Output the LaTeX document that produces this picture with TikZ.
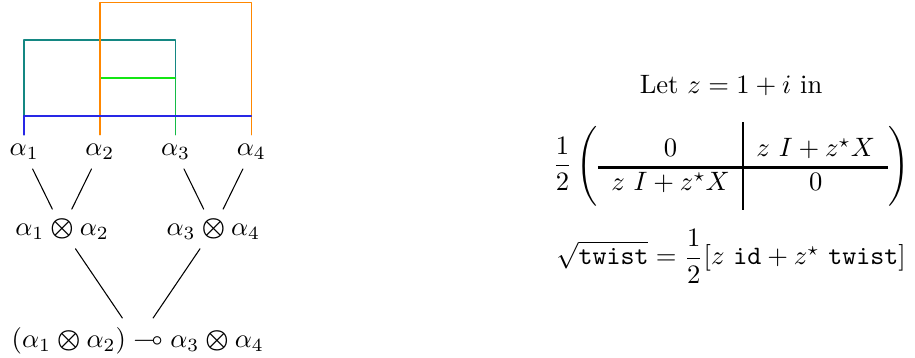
\documentclass[tikz,border=0pt]{standalone}
\usepackage{amsmath,amssymb}
\setlength{\arrayrulewidth}{0.8pt}
\definecolor{wireteal}{RGB}{20,135,130}
\definecolor{wiregreen}{RGB}{20,230,20}
\definecolor{wireblue}{RGB}{40,40,230}
\definecolor{wireorange}{RGB}{255,135,0}
\newcommand{\tens}{\mathbin{\boldsymbol{\otimes}}}
\begin{document}
\begin{tikzpicture}[line join=round,line cap=round]
	\useasboundingbox (-0.32,-2.95) rectangle (11.77,1.78);
	% wires
	\begin{scope}[line width=0.55pt]
	\draw[wireteal] (0,0)--(0,1.25)--(2,1.25)--(2,0.75);
	\draw[wiregreen] (1,0.75)--(2,0.75);
	\draw[wiregreen!55!wireteal] (2,0.75)--(2,0);
	\draw[wireorange] (1,0)--(1,1.75)--(3,1.75)--(3,0);
	\draw[wireblue] (0,0)--(0,0.25)--(3,0.25);
	\end{scope}
	\foreach \i in {1,...,4} \node[below] (a\i) at (\i-1,0) {$\alpha_\i$};
	% tree
	\node[anchor=base] (t12) at (0.5,-1.33) {$\alpha_1 \tens \alpha_2$};
	\node[anchor=base] (t34) at (2.5,-1.33) {$\alpha_3 \tens \alpha_4$};
	\node[anchor=base] (hom) at (1.5,-2.81) {$(\alpha_1 \tens \alpha_2) \multimap \alpha_3 \tens \alpha_4$};
	\draw (a1)--(t12) (a2)--(t12) (a3)--(t34) (a4)--(t34)
	(t12)--(hom) (t34)--(hom);
	% right side
	\node[anchor=base] (let) at (9.34,0.55) {Let $z = 1 + i$ in};
	\node[anchor=base] (mat) at (9.34,-0.50) {$\dfrac{1}{2}\left(\begin{array}{c|c}
		\rule{0pt}{13pt}0 & z\ I + z^\star X \\ \hline
		z\ I + z^\star X & 0\rule[-7pt]{0pt}{7pt}
	\end{array}\right)$};
	\node[anchor=base] (sq) at (9.34,-1.72) {$\sqrt{\texttt{twist}} = \dfrac{1}{2}[z\ \texttt{id} + z^\star\ \texttt{twist}]$};
\end{tikzpicture}
\end{document}
